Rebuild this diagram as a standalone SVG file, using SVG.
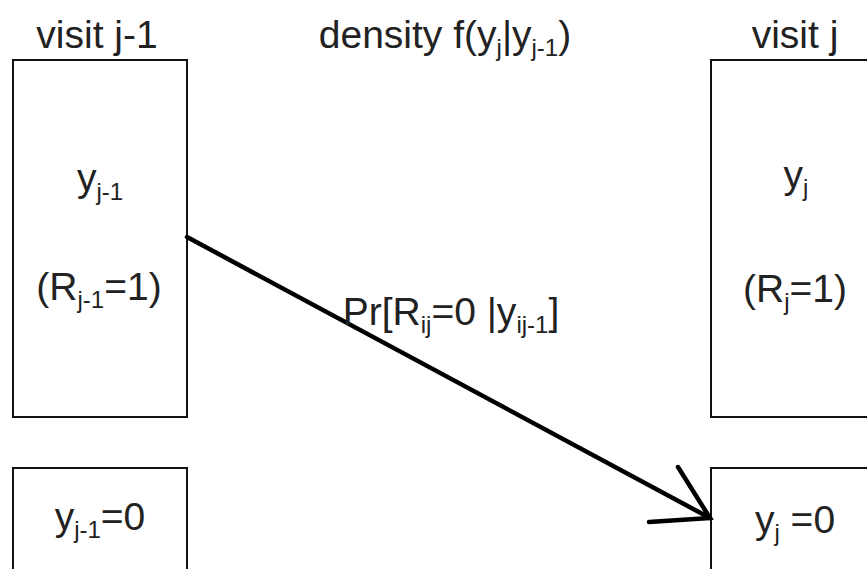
<svg xmlns="http://www.w3.org/2000/svg" width="867" height="569" viewBox="0 0 867 569">
<style>
.box{fill:#fff;stroke:#111;stroke-width:2}
.t{font-family:"Liberation Sans",Arial,sans-serif;font-size:39px;fill:#222;text-anchor:middle}
.s{font-size:24px}
.edge{stroke:#000;stroke-width:4.5;fill:none;stroke-linecap:round}
</style>
<rect width="867" height="569" fill="#fff"/>
<text class="t" x="97" y="48">visit j-1</text>
<text class="t" x="445" y="48">density f(y<tspan class="s" dy="8">j</tspan><tspan dy="-8">|y</tspan><tspan class="s" dy="8">j-1</tspan><tspan dy="-8">)</tspan></text>
<text class="t" x="795" y="48">visit j</text>
<g id="prev_observed">
<rect class="box" x="13" y="60" width="174" height="357"/>
<text class="t" x="100" y="191">y<tspan class="s" dy="9">j-1</tspan></text>
<text class="t" x="99" y="300">(R<tspan class="s" dy="8">j-1</tspan><tspan dy="-8">=1)</tspan></text>
</g>
<g id="prev_zero">
<rect class="box" x="13" y="468" width="174" height="120"/>
<text class="t" x="100" y="530">y<tspan class="s" dy="8">j-1</tspan><tspan dy="-8">=0</tspan></text>
</g>
<g id="curr_observed">
<rect class="box" x="711" y="60" width="180" height="357"/>
<text class="t" x="796" y="188">y<tspan class="s" dy="8">j</tspan></text>
<text class="t" x="795" y="302">(R<tspan class="s" dy="8">j</tspan><tspan dy="-8">=1)</tspan></text>
</g>
<g id="curr_zero">
<rect class="box" x="711" y="468" width="180" height="120"/>
<text class="t" x="795" y="533">y<tspan class="s" dy="8">j</tspan><tspan dy="-8"> =0</tspan></text>
</g>
<g id="connectors">
<path class="edge" d="M187 237 L710 518"/>
<path class="edge" d="M678 467 L710 518 L649 522"/>
<text class="t" x="451" y="325">Pr[R<tspan class="s" dy="8">ij</tspan><tspan dy="-8">=0 |y</tspan><tspan class="s" dy="8">ij-1</tspan><tspan dy="-8">]</tspan></text>
</g>
</svg>
